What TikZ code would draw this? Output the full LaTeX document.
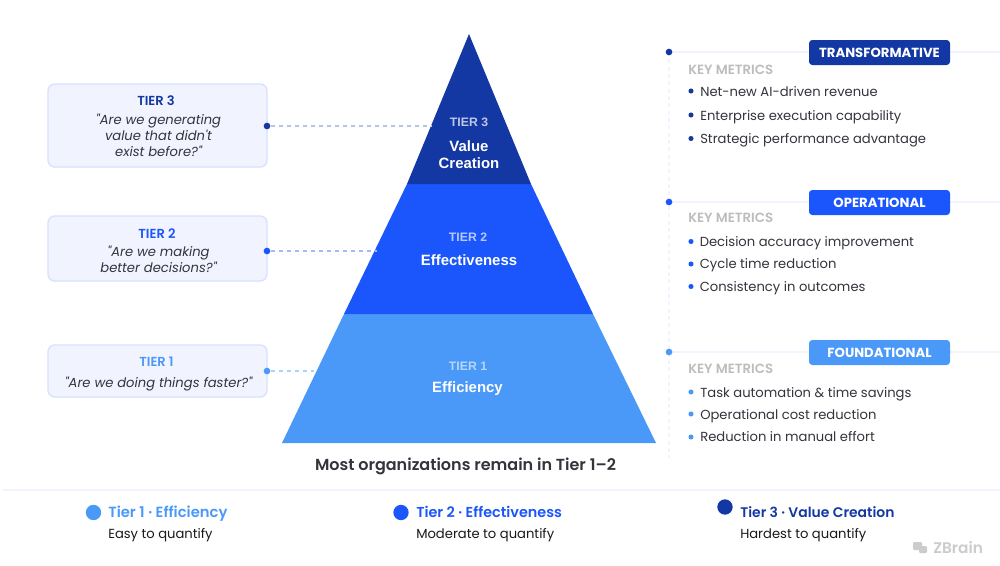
\documentclass[tikz,border=0pt]{standalone}
\usepackage{fontspec}
\setmainfont{Poppins}[BoldFont={Poppins SemiBold}]
\newfontfamily\popq{Poppins}[ItalicFont={Poppins Italic}]
\newfontfamily\popb{Poppins}
\newfontfamily\pyr{Liberation Sans}
\definecolor{tone}{HTML}{4A98F7}
\definecolor{ttwo}{HTML}{1A56FB}
\definecolor{tthree}{HTML}{1337A3}
\definecolor{boxfill}{HTML}{F1F4FF}
\definecolor{boxline}{HTML}{D8E1FE}
\definecolor{guide}{HTML}{F1F3FE}
\definecolor{ink}{HTML}{33343C}
\definecolor{keygray}{HTML}{BDBDBD}
\tikzset{
 x=0.75pt,y=-0.75pt,
 qbox/.style={draw=boxline,line width=1pt,fill=boxfill,rounded corners=5pt},
 tierhead/.style={font=\fontsize{9.8}{11}\selectfont\bfseries,anchor=center},
 quote/.style={font=\popq\fontsize{9.85}{11.9}\selectfont\itshape,text=ink,align=center,anchor=center},
 link/.style={dashed,dash pattern=on 3.5pt off 2.5pt,line width=1pt},
 pyrhead/.style={font=\pyr\fontsize{9.2}{11}\selectfont\bfseries,anchor=center},
 pyrname/.style={font=\pyr\fontsize{11.2}{12.6}\selectfont\bfseries,text=white,align=center,anchor=center},
 badge/.style={rounded corners=2.5pt,minimum width=105.75pt,minimum height=18.75pt,inner sep=0pt,text=white,font=\popb\fontsize{9.9}{11}\selectfont\bfseries},
 keym/.style={font=\fontsize{10}{11}\selectfont\bfseries,text=keygray,anchor=west,inner sep=0pt},
 item/.style={font=\fontsize{9.85}{12}\selectfont,text=ink,anchor=west,inner sep=0pt},
 guideline/.style={draw=guide,line width=1.2pt},
 guidedash/.style={draw=guide,line width=1.5pt,dash pattern=on 3pt off 2.5pt},
 legendname/.style={anchor=base west,inner sep=0pt},
 legendsub/.style={font=\fontsize{9.85}{12}\selectfont,text=black!90,anchor=base west,inner sep=0pt},
 dotnode/.style={circle,inner sep=0pt,minimum size=#1},
}
\begin{document}
\begin{tikzpicture}
\useasboundingbox[fill=white] (0,0) rectangle (1000,565);
% guide lines
\coordinate (gtop) at (669,52);
\coordinate (gbot) at (669,458);
\coordinate (e1) at (1000,52);
\coordinate (e2) at (1000,202);
\coordinate (e3) at (1000,352);
\coordinate (g2) at (669,202);
\coordinate (g3) at (669,352);
\draw[guidedash] (gtop) -- (gbot);
\draw[guideline] (gtop) -- (e1);
\draw[guideline] (g2) -- (e2);
\draw[guideline] (g3) -- (e3);
% pyramid
\fill[tone] (344,314) -- (593,314) -- (656,443) -- (282,443) -- cycle;
\fill[ttwo] (407,184) -- (531,184) -- (593,314) -- (344,314) -- cycle;
\fill[tthree] (469,34) -- (531,184) -- (407,184) -- cycle;
\node[pyrhead,text=white!72!tthree] (p3h) at (469,122.5) {TIER 3};
\node[pyrname] (p3n) at (469,154.5) {Value\\Creation};
\node[pyrhead,text=white!68!ttwo] (p2h) at (468,237.5) {TIER 2};
\node[pyrname] (p2n) at (469,260) {Effectiveness};
\node[pyrhead,text=white!60!tone] (p1h) at (468,366.5) {TIER 1};
\node[pyrname] (p1n) at (467.5,389) {Efficiency};
% question boxes
\filldraw[qbox] (48,84) rectangle (267,167);
\filldraw[qbox] (48,216) rectangle (267,281);
\filldraw[qbox] (48,345) rectangle (267,397);
\node[tierhead,text=tthree] (q3h) at (156,100.5) {TIER 3};
\node[quote] (q3) at (158.5,135) {"Are we generating\\value that didn't\\ exist before?"};
\node[tierhead,text=ttwo] (q2h) at (157,233.5) {TIER 2};
\node[quote] (q2) at (158.5,259.3) {"Are we making\\better decisions?"};
\node[tierhead,text=tone] (q1h) at (156.5,361.5) {TIER 1};
\node[quote] (q1) at (158.5,384) {"Are we doing things faster?"};
% connectors
\node[dotnode=5pt,fill=tthree] (d3) at (267,126) {};
\node[dotnode=5pt,fill=ttwo] (d2) at (267,251) {};
\node[dotnode=5pt,fill=tone] (d1) at (267,371) {};
\coordinate (c3) at (431,126);
\coordinate (c2) at (377,251);
\coordinate (c1) at (314,371);
\draw[link,draw=tthree!30!white] (d3) -- (c3);
\draw[link,draw=ttwo!40!white] (d2) -- (c2);
\draw[link,draw=tone!45!white] (d1) -- (c1);
% right column
\node[dotnode=5pt,fill=tthree] (m3) at (669,52) {};
\node[dotnode=5pt,fill=ttwo] (m2) at (669,202) {};
\node[dotnode=5pt,fill=tone] (m1) at (669,352) {};
\node[badge,fill=tthree] (b3) at (879.5,52.5) {TRANSFORMATIVE};
\node[badge,fill=ttwo] (b2) at (879.5,202.5) {OPERATIONAL};
\node[badge,fill=tone] (b1) at (879.5,352.5) {FOUNDATIONAL};
\node[keym] (k3) at (688,70) {KEY METRICS};
\node[keym] (k2) at (688,218) {KEY METRICS};
\node[keym] (k1) at (688,369) {KEY METRICS};
\foreach \yy/\ty/\tt in {91/92/Net-new AI-driven revenue,115/117.2/Enterprise execution capability,138.5/140/Strategic performance advantage}{
 \fill[tthree] (691,\yy) circle[radius=1.9pt];
 \node[item] at (700,\ty) {\tt};
}
\foreach \yy/\ty/\tt in {241.5/243.5/Decision accuracy improvement,264/265.5/Cycle time reduction,286.5/288/Consistency in outcomes}{
 \fill[ttwo] (691,\yy) circle[radius=1.9pt];
 \node[item] at (699.5,\ty) {\tt};
}
\foreach \yy/\ty/\tt in {392/394/Task automation \& time savings,414/416/Operational cost reduction,437/437/Reduction in manual effort}{
 \fill[tone] (691,\yy) circle[radius=1.9pt];
 \node[item] at (700,\ty) {\tt};
}
% caption
\node[font=\fontsize{12}{13}\selectfont\bfseries,text=ink,anchor=center] (cap) at (465.5,466) {Most organizations remain in Tier 1–2};
% legend
\coordinate (l0) at (3,490);
\coordinate (l1) at (1000,490);
\draw[guideline] (l0) -- (l1);
\node[dotnode=11.5pt,fill=tone] (a1) at (93.5,512.5) {};
\node[dotnode=11.5pt,fill=ttwo] (a2) at (401,512.5) {};
\node[dotnode=11.5pt,fill=tthree] (a3) at (725,507) {};
\node[legendname,text=tone,font=\fontsize{11.05}{12}\selectfont\bfseries] (n1) at (108,517.8) {Tier 1 · Efficiency};
\node[legendname,text=ttwo,font=\fontsize{10.8}{12}\selectfont\bfseries] (n2) at (416,517.8) {Tier 2 · Effectiveness};
\node[legendname,text=tthree,font=\fontsize{10.45}{12}\selectfont\bfseries] (n3) at (740,517.8) {Tier 3 · Value Creation};
\node[legendsub] (s1) at (108,538) {Easy to quantify};
\node[legendsub] (s2) at (416,538) {Moderate to quantify};
\node[legendsub] (s3) at (740,538) {Hardest to quantify};
% logo
\node[font=\fontsize{11.5}{12}\selectfont\bfseries,text=black!20,anchor=west,inner sep=0pt] (zb) at (933,547.5) {ZBrain};
\fill[black!20,rounded corners=0.8pt] (913,542) rectangle (922,550);
\fill[black!20,rounded corners=0.8pt] (919,546) rectangle (927,553);
\end{tikzpicture}
\end{document}
